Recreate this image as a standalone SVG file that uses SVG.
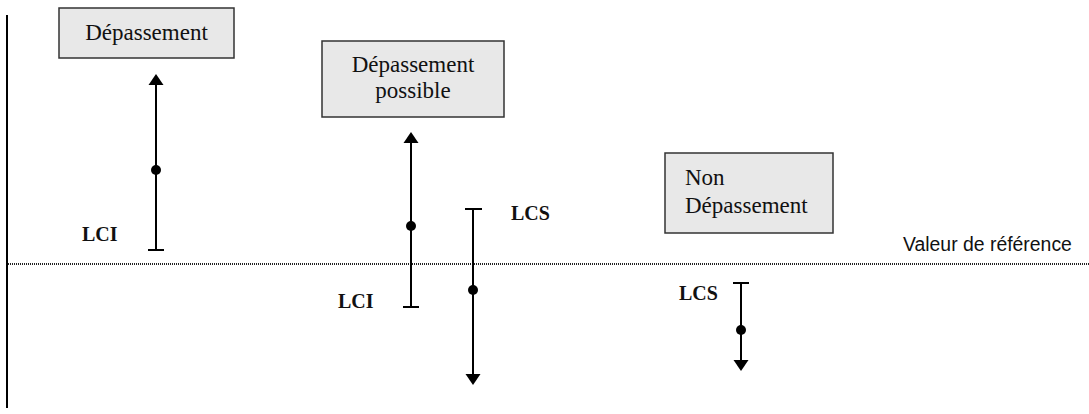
<svg xmlns="http://www.w3.org/2000/svg" width="1089" height="414" viewBox="0 0 1089 414">
  <style>
    .box { fill: #e8e8e8; stroke: #333; stroke-width: 1.5; }
    .lbl { font-family: "Liberation Serif", "Times New Roman", serif; font-size: 23px; fill: #111; }
    .lim { font-family: "Liberation Serif", "Times New Roman", serif; font-size: 20px; font-weight: bold; fill: #111; }
    .ref { font-family: "Liberation Sans", Arial, sans-serif; font-size: 19.4px; fill: #111; }
    .bar { stroke: #000; stroke-width: 2; fill: none; }
    .axis { stroke: #000; stroke-width: 2; }
    .dotline { stroke: #222; stroke-width: 2; stroke-dasharray: 1 1; }
    .dot { fill: #000; }
  </style>
  <defs>
    <marker id="ah" viewBox="0 -8 11 16" markerWidth="11" markerHeight="16" refX="0" refY="0" orient="auto" markerUnits="userSpaceOnUse">
      <path d="M0,-7.5 L11,0 L0,7.5 z" fill="#000"/>
    </marker>
  </defs>

  <g id="axes">
    <line class="axis" x1="7" y1="15" x2="7" y2="408"/>
    <line class="dotline" x1="8" y1="264" x2="1089" y2="264"/>
    <text class="ref" x="903" y="251">Valeur de référence</text>
  </g>

  <g id="node-depassement">
    <rect class="box" x="59" y="8" width="175" height="50"/>
    <text class="lbl" x="146.5" y="40" text-anchor="middle">Dépassement</text>
  </g>

  <g id="node-depassement-possible">
    <rect class="box" x="322" y="41" width="182" height="76"/>
    <text class="lbl" x="413" y="72" text-anchor="middle">Dépassement</text>
    <text class="lbl" x="413" y="98" text-anchor="middle">possible</text>
  </g>

  <g id="node-non-depassement">
    <rect class="box" x="665" y="153" width="168" height="80"/>
    <text class="lbl" x="685" y="185">Non</text>
    <text class="lbl" x="685" y="213">Dépassement</text>
  </g>

  <g id="connectors">
    <line class="bar" x1="156" y1="250" x2="156" y2="85" marker-end="url(#ah)"/>
    <line class="bar" x1="148" y1="250" x2="164" y2="250"/>
    <circle class="dot" cx="156" cy="170" r="5"/>
    <line class="bar" x1="411" y1="307" x2="411" y2="143" marker-end="url(#ah)"/>
    <line class="bar" x1="403" y1="307" x2="419" y2="307"/>
    <circle class="dot" cx="411" cy="226" r="5"/>
    <line class="bar" x1="473" y1="209" x2="473" y2="374" marker-end="url(#ah)"/>
    <line class="bar" x1="465" y1="209" x2="482" y2="209"/>
    <circle class="dot" cx="473" cy="290" r="5"/>
    <line class="bar" x1="741" y1="283" x2="741" y2="360" marker-end="url(#ah)"/>
    <line class="bar" x1="733" y1="283" x2="749" y2="283"/>
    <circle class="dot" cx="741" cy="330" r="5"/>
  </g>

  <g id="labels">
    <text class="lim" x="82" y="241">LCI</text>
    <text class="lim" x="338" y="308">LCI</text>
    <text class="lim" x="511" y="220">LCS</text>
    <text class="lim" x="679" y="300">LCS</text>
  </g>
</svg>
